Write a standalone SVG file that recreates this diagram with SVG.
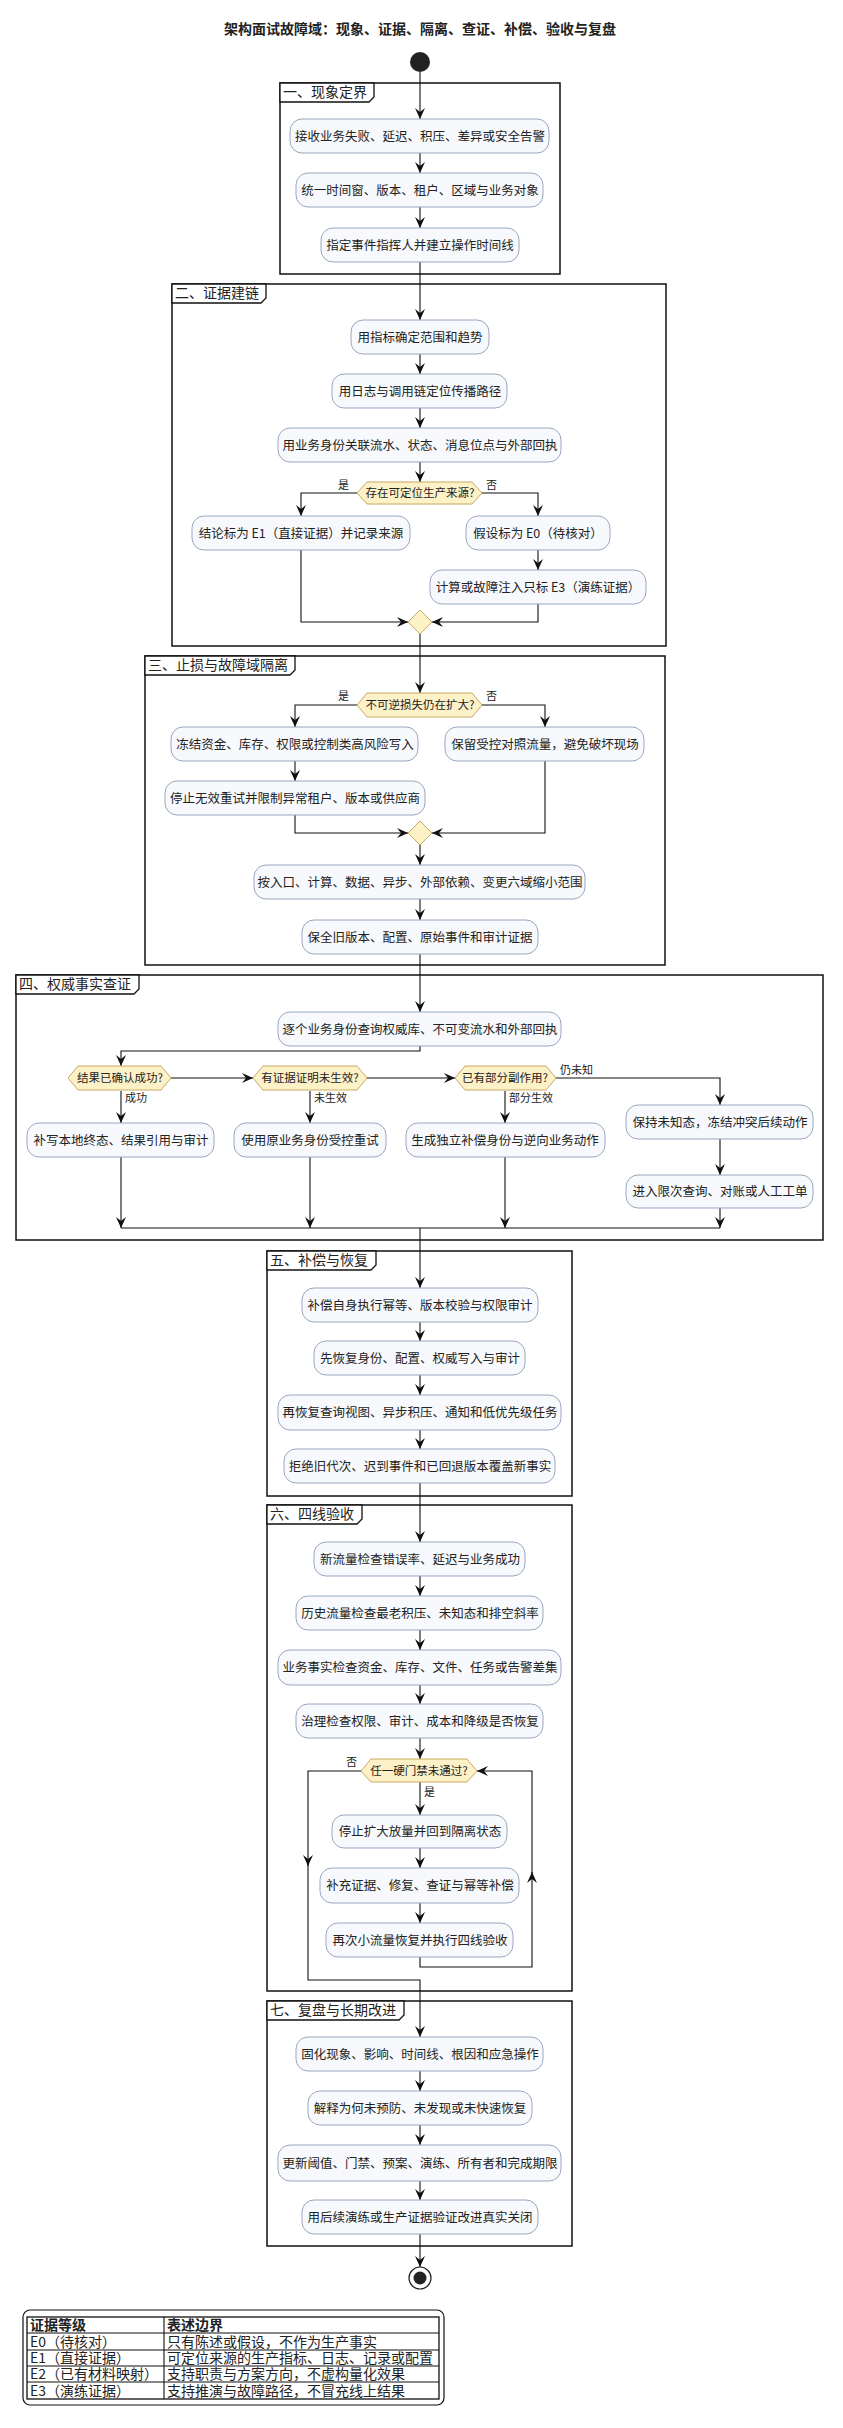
<svg xmlns="http://www.w3.org/2000/svg" width="843" height="2428" viewBox="0 0 843 2428">
<style>
text{font-family:"Noto Sans CJK SC","Liberation Sans",sans-serif;fill:#222}
.n rect{fill:#F7F9FC;stroke:#9AA6BF;stroke-width:1}
.n text{font-size:12.5px;text-anchor:middle}
.d polygon{fill:#FDF1C8;stroke:#C9AA62;stroke-width:1}
.d text{font-size:11.5px;text-anchor:middle}
.p rect{fill:none;stroke:#111;stroke-width:1.5}
.p path{fill:#fff;stroke:#111;stroke-width:1.3}
.p text{font-size:14px}
.c path{fill:none;stroke:#111;stroke-width:1.1;marker-end:url(#a)}
.c path.n0{marker-end:none}
.lb{font-size:11px}
.lg text{font-size:14px}
</style>
<defs>
<marker id="a" viewBox="0 0 12 12" refX="11" refY="6" markerWidth="12" markerHeight="12" markerUnits="userSpaceOnUse" orient="auto">
<path d="M0,1 L11,6 L0,11 L4,6 Z" fill="#111"/>
</marker>
</defs>
<text x="420" y="34" font-size="14" font-weight="bold" text-anchor="middle">架构面试故障域：现象、证据、隔离、查证、补偿、验收与复盘</text>
<circle id="start" cx="420" cy="62" r="10" fill="#222"/>

<g class="p" id="p1"><rect x="280" y="83" width="280" height="191"/><path d="M280,102 H369 L374,97 V83 H280 Z"/><text x="283" y="97">一、现象定界</text></g>
<g class="p" id="p2"><rect x="172" y="284" width="494" height="362"/><path d="M172,303 H261 L266,298 V284 H172 Z"/><text x="175" y="298">二、证据建链</text></g>
<g class="p" id="p3"><rect x="145" y="656" width="520" height="309"/><path d="M145,675 H290 L295,670 V656 H145 Z"/><text x="148" y="670">三、止损与故障域隔离</text></g>
<g class="p" id="p4"><rect x="16" y="975" width="807" height="265"/><path d="M16,994 H134 L139,989 V975 H16 Z"/><text x="19" y="989">四、权威事实查证</text></g>
<g class="p" id="p5"><rect x="267" y="1251" width="305" height="245"/><path d="M267,1270 H371 L376,1265 V1251 H267 Z"/><text x="270" y="1265">五、补偿与恢复</text></g>
<g class="p" id="p6"><rect x="267" y="1505" width="305" height="486"/><path d="M267,1524 H357 L362,1519 V1505 H267 Z"/><text x="270" y="1519">六、四线验收</text></g>
<g class="p" id="p7"><rect x="267" y="2001" width="305" height="245"/><path d="M267,2020 H399 L404,2015 V2001 H267 Z"/><text x="270" y="2015">七、复盘与长期改进</text></g>

<g class="c" id="connectors">
<path d="M420,72 V119"/>
<path d="M420,153 V173"/>
<path d="M420,207 V228"/>
<path d="M420,262 V320"/>
<path d="M420,354 V374"/>
<path d="M420,408 V428"/>
<path d="M420,462 V482"/>
<path d="M357,493 H301 V516"/>
<path d="M482,493 H538 V516"/>
<path d="M538,550 V570"/>
<path d="M301,550 V622 H408"/>
<path d="M538,604 V622 H432"/>
<path d="M420,634 V693"/>
<path d="M357,705 H295 V727"/>
<path d="M482,705 H545 V727"/>
<path d="M295,761 V781"/>
<path d="M295,815 V833 H408"/>
<path d="M545,761 V833 H432"/>
<path d="M420,845 V865"/>
<path d="M420,899 V920"/>
<path d="M420,954 V1012"/>
<path d="M420,1046 V1051 H121 V1066"/>
<path d="M171,1078 H253"/>
<path d="M367,1078 H455"/>
<path d="M556,1078 H720 V1105"/>
<path d="M121,1091 V1123"/>
<path d="M310,1091 V1123"/>
<path d="M505,1091 V1123"/>
<path d="M720,1139 V1175"/>
<path d="M121,1157 V1228"/>
<path d="M310,1157 V1228"/>
<path d="M505,1157 V1228"/>
<path d="M720,1208 V1228"/>
<path class="n0" d="M121,1228 H720"/>
<path d="M420,1228 V1288"/>
<path d="M420,1322 V1341"/>
<path d="M420,1375 V1395"/>
<path d="M420,1430 V1449"/>
<path d="M420,1483 V1542"/>
<path d="M420,1576 V1596"/>
<path d="M420,1630 V1650"/>
<path d="M420,1685 V1704"/>
<path d="M420,1738 V1759"/>
<path d="M420,1782 V1815"/>
<path d="M420,1848 V1868"/>
<path d="M420,1903 V1923"/>
<path d="M420,1957 V1967 H532 V1872"/>
<path d="M532,1874 V1771 H477"/>
<path d="M361,1771 H308 V1866"/>
<path d="M308,1864 V1980 H420 V2037"/>
<path d="M420,2071 V2091"/>
<path d="M420,2125 V2145"/>
<path d="M420,2181 V2200"/>
<path d="M420,2234 V2267"/>
</g>

<g class="n" id="n1"><rect x="290" y="119" width="259" height="34" rx="12"/><text x="420" y="141">接收业务失败、延迟、积压、差异或安全告警</text></g>
<g class="n" id="n2"><rect x="296" y="173" width="247" height="34" rx="12"/><text x="420" y="195">统一时间窗、版本、租户、区域与业务对象</text></g>
<g class="n" id="n3"><rect x="321" y="228" width="198" height="34" rx="12"/><text x="420" y="250">指定事件指挥人并建立操作时间线</text></g>
<g class="n" id="n4"><rect x="351" y="320" width="138" height="34" rx="12"/><text x="420" y="342">用指标确定范围和趋势</text></g>
<g class="n" id="n5"><rect x="332" y="374" width="175" height="34" rx="12"/><text x="420" y="396">用日志与调用链定位传播路径</text></g>
<g class="n" id="n6"><rect x="278" y="428" width="283" height="34" rx="12"/><text x="420" y="450">用业务身份关联流水、状态、消息位点与外部回执</text></g>
<g class="d" id="d1"><polygon points="357,493 367,482 472,482 482,493 472,504 367,504"/><text x="420" y="497">存在可定位生产来源?</text></g>
<text class="lb" x="349" y="489" text-anchor="end">是</text>
<text class="lb" x="486" y="489">否</text>
<g class="n" id="n7"><rect x="192" y="516" width="218" height="34" rx="12"/><text x="301" y="538">结论标为 E1（直接证据）并记录来源</text></g>
<g class="n" id="n8"><rect x="466" y="516" width="144" height="34" rx="12"/><text x="538" y="538">假设标为 E0（待核对）</text></g>
<g class="n" id="n9"><rect x="430" y="570" width="216" height="34" rx="12"/><text x="538" y="592">计算或故障注入只标 E3（演练证据）</text></g>
<g class="d" id="m1"><polygon points="408,622 420,610 432,622 420,634"/></g>

<g class="d" id="d2"><polygon points="357,705 367,693 472,693 482,705 472,717 367,717"/><text x="420" y="709">不可逆损失仍在扩大?</text></g>
<text class="lb" x="349" y="700" text-anchor="end">是</text>
<text class="lb" x="486" y="700">否</text>
<g class="n" id="n10"><rect x="171" y="727" width="247" height="34" rx="12"/><text x="295" y="749">冻结资金、库存、权限或控制类高风险写入</text></g>
<g class="n" id="n11"><rect x="445" y="727" width="199" height="34" rx="12"/><text x="545" y="749">保留受控对照流量，避免破坏现场</text></g>
<g class="n" id="n12"><rect x="165" y="781" width="260" height="34" rx="12"/><text x="295" y="803">停止无效重试并限制异常租户、版本或供应商</text></g>
<g class="d" id="m2"><polygon points="408,833 420,821 432,833 420,845"/></g>
<g class="n" id="n13"><rect x="254" y="865" width="331" height="34" rx="12"/><text x="420" y="887">按入口、计算、数据、异步、外部依赖、变更六域缩小范围</text></g>
<g class="n" id="n14"><rect x="302" y="920" width="236" height="34" rx="12"/><text x="420" y="942">保全旧版本、配置、原始事件和审计证据</text></g>

<g class="n" id="n15"><rect x="278" y="1012" width="283" height="34" rx="12"/><text x="420" y="1034">逐个业务身份查询权威库、不可变流水和外部回执</text></g>
<g class="d" id="d3"><polygon points="68,1078 78,1066 161,1066 171,1078 161,1090 78,1090"/><text x="120" y="1082">结果已确认成功?</text></g>
<g class="d" id="d4"><polygon points="253,1078 263,1066 357,1066 367,1078 357,1090 263,1090"/><text x="310" y="1082">有证据证明未生效?</text></g>
<g class="d" id="d5"><polygon points="455,1078 465,1066 546,1066 556,1078 546,1090 465,1090"/><text x="505" y="1082">已有部分副作用?</text></g>
<text class="lb" x="560" y="1074">仍未知</text>
<text class="lb" x="125" y="1102">成功</text>
<text class="lb" x="314" y="1102">未生效</text>
<text class="lb" x="509" y="1102">部分生效</text>
<g class="n" id="n16"><rect x="27" y="1123" width="187" height="34" rx="12"/><text x="121" y="1145">补写本地终态、结果引用与审计</text></g>
<g class="n" id="n17"><rect x="234" y="1123" width="152" height="34" rx="12"/><text x="310" y="1145">使用原业务身份受控重试</text></g>
<g class="n" id="n18"><rect x="406" y="1123" width="199" height="34" rx="12"/><text x="505" y="1145">生成独立补偿身份与逆向业务动作</text></g>
<g class="n" id="n19"><rect x="626" y="1105" width="187" height="34" rx="12"/><text x="720" y="1127">保持未知态，冻结冲突后续动作</text></g>
<g class="n" id="n20"><rect x="626" y="1175" width="187" height="33" rx="12"/><text x="720" y="1196">进入限次查询、对账或人工工单</text></g>

<g class="n" id="n21"><rect x="302" y="1288" width="236" height="34" rx="12"/><text x="420" y="1310">补偿自身执行幂等、版本校验与权限审计</text></g>
<g class="n" id="n22"><rect x="314" y="1341" width="211" height="34" rx="12"/><text x="420" y="1363">先恢复身份、配置、权威写入与审计</text></g>
<g class="n" id="n23"><rect x="278" y="1395" width="283" height="35" rx="12"/><text x="420" y="1417">再恢复查询视图、异步积压、通知和低优先级任务</text></g>
<g class="n" id="n24"><rect x="284" y="1449" width="271" height="34" rx="12"/><text x="420" y="1471">拒绝旧代次、迟到事件和已回退版本覆盖新事实</text></g>

<g class="n" id="n25"><rect x="314" y="1542" width="211" height="34" rx="12"/><text x="420" y="1564">新流量检查错误率、延迟与业务成功</text></g>
<g class="n" id="n26"><rect x="296" y="1596" width="247" height="34" rx="12"/><text x="420" y="1618">历史流量检查最老积压、未知态和排空斜率</text></g>
<g class="n" id="n27"><rect x="278" y="1650" width="283" height="35" rx="12"/><text x="420" y="1672">业务事实检查资金、库存、文件、任务或告警差集</text></g>
<g class="n" id="n28"><rect x="296" y="1704" width="247" height="34" rx="12"/><text x="420" y="1726">治理检查权限、审计、成本和降级是否恢复</text></g>
<g class="d" id="d6"><polygon points="361,1771 371,1759 467,1759 477,1771 467,1782 371,1782"/><text x="419" y="1775">任一硬门禁未通过?</text></g>
<text class="lb" x="357" y="1766" text-anchor="end">否</text>
<text class="lb" x="424" y="1796">是</text>
<g class="n" id="n29"><rect x="332" y="1815" width="175" height="33" rx="12"/><text x="420" y="1836">停止扩大放量并回到隔离状态</text></g>
<g class="n" id="n30"><rect x="320" y="1868" width="199" height="35" rx="12"/><text x="420" y="1890">补充证据、修复、查证与幂等补偿</text></g>
<g class="n" id="n31"><rect x="326" y="1923" width="187" height="34" rx="12"/><text x="420" y="1945">再次小流量恢复并执行四线验收</text></g>

<g class="n" id="n32"><rect x="296" y="2037" width="247" height="34" rx="12"/><text x="420" y="2059">固化现象、影响、时间线、根因和应急操作</text></g>
<g class="n" id="n33"><rect x="308" y="2091" width="224" height="34" rx="12"/><text x="420" y="2113">解释为何未预防、未发现或未快速恢复</text></g>
<g class="n" id="n34"><rect x="278" y="2145" width="283" height="36" rx="12"/><text x="420" y="2168">更新阈值、门禁、预案、演练、所有者和完成期限</text></g>
<g class="n" id="n35"><rect x="302" y="2200" width="236" height="34" rx="12"/><text x="420" y="2222">用后续演练或生产证据验证改进真实关闭</text></g>

<g id="end"><circle cx="420" cy="2278" r="11" fill="#fff" stroke="#222" stroke-width="1.2"/><circle cx="420" cy="2278" r="6.5" fill="#222"/></g>

<g class="lg" id="legend">
<rect x="23" y="2310" width="421" height="95" rx="7" fill="#fff" stroke="#111" stroke-width="1.2"/>
<rect x="27" y="2317" width="412" height="82" fill="none" stroke="#111" stroke-width="1.3"/>
<path d="M27,2333 H439 M27,2350 H439 M27,2366 H439 M27,2382 H439 M164,2317 V2399" stroke="#111" stroke-width="1.1" fill="none"/>
<text x="30" y="2330" font-weight="bold">证据等级</text><text x="167" y="2330" font-weight="bold">表述边界</text>
<text x="30" y="2347">E0（待核对）</text><text x="167" y="2347">只有陈述或假设，不作为生产事实</text>
<text x="30" y="2363">E1（直接证据）</text><text x="167" y="2363">可定位来源的生产指标、日志、记录或配置</text>
<text x="30" y="2379">E2（已有材料映射）</text><text x="167" y="2379">支持职责与方案方向，不虚构量化效果</text>
<text x="30" y="2396">E3（演练证据）</text><text x="167" y="2396">支持推演与故障路径，不冒充线上结果</text>
</g>
</svg>
